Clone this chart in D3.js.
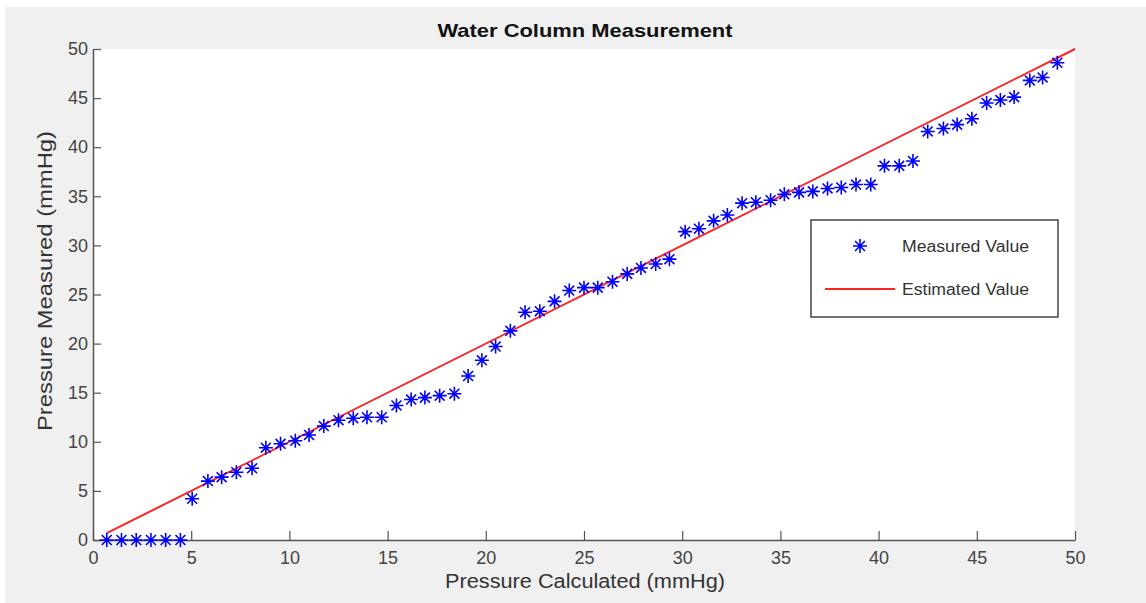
<!DOCTYPE html>
<html>
<head>
<meta charset="utf-8">
<script src="https://cdn.jsdelivr.net/npm/d3@7"></script>
<style>
  body { margin: 0; background: #fff; }
  text { font-family: "Liberation Sans", Arial, sans-serif; }
</style>
</head>
<body>
<div id="chart"></div>
<script>
// measured points (pressure calculated, pressure measured)
const calculated = [0.7, 1.45, 2.2, 2.95, 3.7, 4.45, 5.05, 5.85, 6.55, 7.3, 8.1, 8.8, 9.55, 10.3, 11.0, 11.75,
    12.5, 13.25, 13.95, 14.7, 15.45, 16.2, 16.9, 17.65, 18.4, 19.1, 19.8, 20.5, 21.25, 22.0, 22.75, 23.5,
    24.25, 25.0, 25.7, 26.45, 27.2, 27.9, 28.65, 29.35, 30.15, 30.85, 31.6, 32.3, 33.05, 33.75, 34.5, 35.2,
    35.95, 36.65, 37.4, 38.1, 38.85, 39.6, 40.3, 41.05, 41.75, 42.5, 43.3, 44.0, 44.75, 45.5, 46.2, 46.9,
    47.7, 48.35, 49.1];
const measured = [0, 0, 0, 0, 0, 0, 4.2, 6.0, 6.4, 6.9, 7.3, 9.4, 9.8, 10.1, 10.7, 11.6,
    12.2, 12.4, 12.5, 12.5, 13.7, 14.3, 14.5, 14.7, 14.9, 16.7, 18.3, 19.7, 21.3, 23.2, 23.3, 24.3,
    25.4, 25.7, 25.7, 26.3, 27.1, 27.7, 28.1, 28.6, 31.4, 31.7, 32.5, 33.1, 34.3, 34.4, 34.6, 35.2,
    35.4, 35.5, 35.8, 35.9, 36.2, 36.2, 38.1, 38.1, 38.6, 41.6, 41.9, 42.3, 42.9, 44.5, 44.8, 45.1,
    46.8, 47.1, 48.6];
// estimated value line
const estimatedX = [0.7, 50];
const estimatedY = [0.7, 50];
const xTicks = [0, 5, 10, 15, 20, 25, 30, 35, 40, 45, 50];
const yTicks = [0, 5, 10, 15, 20, 25, 30, 35, 40, 45, 50];

const width = 1146, height = 603;
const margin = { top: 49, right: 71, bottom: 63, left: 93 };

const svg = d3.select("#chart").append("svg")
    .attr("width", width)
    .attr("height", height);

// figure background (grey panel with a thin white edge)
svg.append("rect").attr("x", 5).attr("y", 7).attr("width", width - 5).attr("height", height - 7)
    .attr("fill", "#f0f0f0");

const x = d3.scaleLinear().domain([0, 50]).range([margin.left, width - margin.right]);
const y = d3.scaleLinear().domain([0, 50]).range([height - margin.bottom, margin.top]);

svg.append("rect")
    .attr("x", x(0)).attr("y", y(50))
    .attr("width", x(50) - x(0)).attr("height", y(0) - y(50))
    .attr("fill", "#fff");

const xAxis = svg.append("g")
    .attr("transform", `translate(0,${y(0)})`)
    .call(d3.axisBottom(x).tickValues(xTicks).tickSizeInner(-9).tickSizeOuter(0).tickPadding(11));
const yAxis = svg.append("g")
    .attr("transform", `translate(${x(0)},0)`)
    .call(d3.axisLeft(y).tickValues(yTicks).tickSizeInner(-8).tickSizeOuter(0).tickPadding(5));

[xAxis, yAxis].forEach(g => {
    g.select(".domain").attr("stroke", "#555").attr("stroke-width", 1.5);
    g.selectAll(".tick line").attr("stroke", "#555").attr("stroke-width", 1.2);
    g.selectAll(".tick text").attr("fill", "#444").style("font-size", "18px")
        .style("font-family", "'Liberation Sans', Arial, sans-serif");
});

// estimated line
const line = d3.line().x(d => x(d[0])).y(d => y(d[1]));
svg.append("path")
    .datum(d3.zip(estimatedX, estimatedY))
    .attr("d", line)
    .attr("fill", "none")
    .attr("stroke", "#f22")
    .attr("stroke-width", 2);

// asterisk marker
function star(g, r) {
    const d = r * Math.SQRT1_2;
    g.append("path")
        .attr("d", `M${-r},0H${r}M0,${-r}V${r}M${-d},${-d}L${d},${d}M${-d},${d}L${d},${-d}`)
        .attr("stroke", "#0000ff")
        .attr("stroke-width", 1.6)
        .attr("fill", "none");
}

svg.append("g").selectAll("g")
    .data(d3.zip(calculated, measured))
    .enter()
    .append("g")
    .attr("transform", d => `translate(${x(d[0])},${y(d[1])})`)
    .each(function () { star(d3.select(this), 7); });

// title and axis labels
svg.append("text")
    .attr("x", 585).attr("y", 37)
    .attr("text-anchor", "middle")
    .attr("font-weight", "bold")
    .attr("font-size", 19)
    .attr("textLength", 295).attr("lengthAdjust", "spacingAndGlyphs")
    .attr("fill", "#111")
    .text("Water Column Measurement");

svg.append("text")
    .attr("x", 585).attr("y", 588)
    .attr("text-anchor", "middle")
    .attr("font-size", 20)
    .attr("textLength", 280).attr("lengthAdjust", "spacingAndGlyphs")
    .attr("fill", "#333")
    .text("Pressure Calculated (mmHg)");

svg.append("text")
    .attr("transform", "translate(52,281) rotate(-90)")
    .attr("text-anchor", "middle")
    .attr("font-size", 20)
    .attr("textLength", 300).attr("lengthAdjust", "spacingAndGlyphs")
    .attr("fill", "#333")
    .text("Pressure Measured (mmHg)");

// legend
const legend = svg.append("g").attr("transform", "translate(811,220)");
legend.append("rect")
    .attr("width", 247).attr("height", 97)
    .attr("fill", "#fff")
    .attr("stroke", "#444")
    .attr("stroke-width", 1.5);
star(legend.append("g").attr("transform", "translate(49,26)"), 7);
legend.append("line")
    .attr("x1", 14).attr("x2", 84).attr("y1", 69).attr("y2", 69)
    .attr("stroke", "#f22").attr("stroke-width", 2);
legend.append("text").attr("x", 91).attr("y", 32).attr("font-size", 16).attr("fill", "#333")
    .attr("textLength", 127).attr("lengthAdjust", "spacingAndGlyphs")
    .text("Measured Value");
legend.append("text").attr("x", 91).attr("y", 75).attr("font-size", 16).attr("fill", "#333")
    .attr("textLength", 127).attr("lengthAdjust", "spacingAndGlyphs")
    .text("Estimated Value");
</script>
</body>
</html>
